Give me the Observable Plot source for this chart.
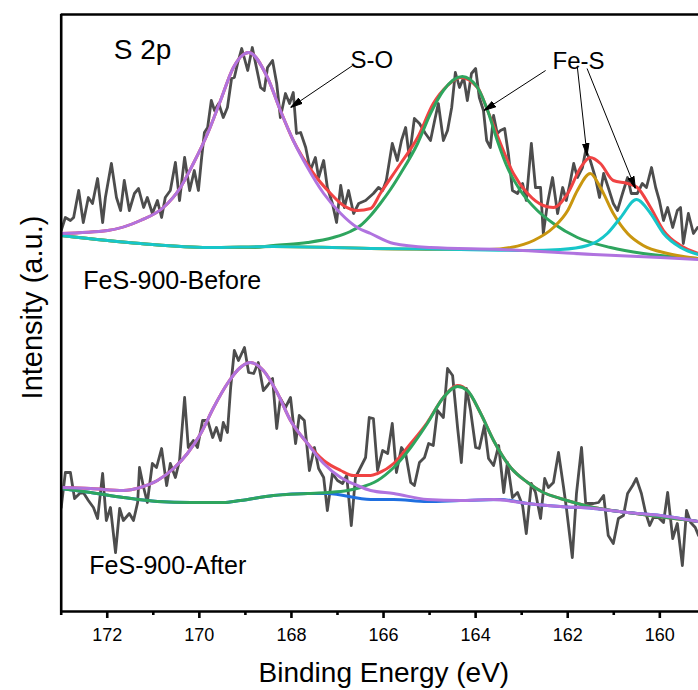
<!DOCTYPE html>
<html>
<head>
<meta charset="utf-8">
<script src="https://cdn.jsdelivr.net/npm/d3@7"></script>
<script src="https://cdn.jsdelivr.net/npm/@observablehq/plot@0.6"></script>
<style>
  html, body { margin: 0; padding: 0; background: white; }
  #chart svg { display: block; }
</style>
</head>
<body>
<div id="chart"></div>
<script>
// ---- Data (binding energy eV, intensity a.u.) ----
const beforeRaw = [[173.00,381],[172.91,394],[172.80,391],[172.73,394],[172.62,421],[172.52,389],[172.41,414],[172.32,408],[172.21,433],[172.10,389],[172.04,414],[171.91,448],[171.80,414],[171.71,401],[171.63,431],[171.52,401],[171.41,418],[171.32,423],[171.21,404],[171.13,414],[171.02,398],[170.91,411],[170.82,394],[170.74,414],[170.63,421],[170.52,449],[170.43,411],[170.32,454],[170.21,421],[170.11,441],[170.02,421],[169.95,454],[169.89,479],[169.82,484],[169.74,511],[169.67,501],[169.58,508],[169.48,494],[169.39,504],[169.30,533],[169.24,534],[169.17,548],[169.08,563],[169.02,553],[168.95,541],[168.85,564],[168.76,544],[168.67,524],[168.59,521],[168.52,544],[168.41,551],[168.32,528],[168.24,494],[168.13,518],[168.04,508],[167.96,519],[167.89,478],[167.80,479],[167.69,464],[167.59,441],[167.48,454],[167.41,434],[167.30,451],[167.22,424],[167.11,408],[167.02,389],[166.93,426],[166.85,404],[166.76,421],[166.65,398],[166.54,408],[166.39,411],[166.22,418],[166.11,424],[166.02,421],[165.94,431],[165.81,468],[165.70,451],[165.61,471],[165.52,484],[165.44,454],[165.33,493],[165.22,488],[165.09,478],[164.98,471],[164.89,491],[164.81,508],[164.70,471],[164.61,481],[164.52,504],[164.44,539],[164.35,524],[164.26,534],[164.18,511],[164.09,538],[164.00,543],[163.92,514],[163.83,501],[163.76,471],[163.68,464],[163.61,496],[163.53,478],[163.46,481],[163.37,483],[163.29,458],[163.20,421],[163.09,418],[162.98,428],[162.90,411],[162.79,468],[162.70,424],[162.59,424],[162.53,378],[162.44,408],[162.33,434],[162.22,398],[162.11,424],[162.03,411],[161.94,431],[161.87,448],[161.79,434],[161.68,444],[161.61,461],[161.51,451],[161.40,434],[161.31,414],[161.22,438],[161.12,424],[161.01,408],[160.92,401],[160.81,418],[160.70,434],[160.62,418],[160.49,418],[160.38,428],[160.29,424],[160.18,444],[160.09,424],[160.01,411],[159.92,391],[159.83,404],[159.72,384],[159.62,401],[159.55,404],[159.49,368],[159.38,398],[159.27,378],[159.18,384]];

const beforeBackground = [[173.00,376],[171.28,368],[169.82,364],[168.39,365],[166.28,363],[164.33,362],[162.87,361],[161.44,358],[159.99,354],[159.16,353]];
const beforeSO = [[173.00,378],[171.99,381],[171.28,391],[170.78,404],[170.41,424],[170.13,448],[169.82,478],[169.54,511],[169.26,544],[168.93,559],[168.52,534],[168.24,501],[167.96,471],[167.65,444],[167.30,418],[166.93,398],[166.57,384],[166.28,378],[165.78,368],[164.98,364],[163.46,362],[161.44,357],[159.99,354],[159.16,352]];
const beforeFeS1 = [[173.00,376],[171.28,368],[169.82,364],[168.80,364],[168.39,366],[167.65,369],[167.09,374],[166.72,380],[166.50,386],[166.28,396],[166.07,408],[165.85,422],[165.63,438],[165.26,468],[164.98,498],[164.70,521],[164.29,535],[163.96,524],[163.74,501],[163.53,471],[163.31,444],[163.03,421],[162.66,401],[162.31,388],[161.79,374],[161.07,364],[160.36,358],[159.16,353]];
const beforeFeS2 = [[173.00,376],[171.28,368],[169.82,364],[168.39,365],[166.28,363],[164.33,362],[163.70,362],[163.24,364],[162.74,371],[162.31,384],[162.00,401],[161.79,421],[161.51,438],[161.29,424],[161.01,398],[160.70,378],[160.36,366],[159.83,358],[159.16,353]];
const beforeFeS3 = [[173.00,376],[171.28,368],[169.82,364],[168.39,365],[166.28,363],[164.33,362],[162.87,361],[162.16,362],[161.57,366],[161.14,378],[160.85,394],[160.51,412],[160.20,398],[159.92,378],[159.55,364],[159.16,357]];
const beforeEnvelope = [[173.00,378],[171.99,381],[171.28,391],[170.78,404],[170.41,424],[170.13,448],[169.82,478],[169.54,511],[169.26,544],[168.93,559],[168.52,534],[168.24,501],[167.96,471],[167.52,438],[167.15,418],[166.87,406],[166.57,401],[166.28,403],[166.07,418],[165.63,448],[165.26,474],[164.92,508],[164.61,526],[164.33,534],[163.96,524],[163.74,501],[163.46,468],[163.18,438],[162.87,418],[162.53,406],[162.31,404],[162.00,418],[161.72,444],[161.51,454],[161.29,448],[161.01,431],[160.70,428],[160.49,424],[160.20,404],[159.92,381],[159.55,366],[159.16,358]];

const afterRaw = [[173.00,104],[172.91,139],[172.80,139],[172.71,113],[172.60,118],[172.52,119],[172.41,111],[172.30,104],[172.21,93],[172.10,138],[172.02,91],[171.93,104],[171.82,59],[171.73,103],[171.65,91],[171.52,98],[171.43,91],[171.34,109],[171.30,144],[171.21,124],[171.13,109],[171.02,148],[170.93,144],[170.82,163],[170.71,126],[170.63,148],[170.52,134],[170.43,151],[170.32,214],[170.24,164],[170.13,171],[170.04,164],[169.93,191],[169.82,191],[169.71,174],[169.63,184],[169.54,171],[169.48,189],[169.39,179],[169.32,224],[169.24,261],[169.15,251],[169.02,264],[168.93,239],[168.82,238],[168.72,249],[168.61,221],[168.52,226],[168.41,233],[168.32,183],[168.24,213],[168.13,204],[168.02,214],[167.91,168],[167.83,196],[167.72,191],[167.61,141],[167.50,164],[167.41,143],[167.30,134],[167.22,101],[167.11,138],[167.00,131],[166.89,128],[166.80,136],[166.70,86],[166.61,134],[166.50,144],[166.39,154],[166.31,194],[166.22,193],[166.13,141],[166.02,161],[165.91,158],[165.81,188],[165.72,139],[165.61,164],[165.52,158],[165.41,129],[165.33,126],[165.22,149],[165.11,154],[165.02,168],[164.92,166],[164.83,201],[164.70,194],[164.61,243],[164.50,236],[164.39,183],[164.31,149],[164.20,223],[164.11,201],[164.00,164],[163.92,163],[163.81,186],[163.72,153],[163.61,146],[163.50,166],[163.39,119],[163.31,149],[163.20,114],[163.09,119],[162.98,106],[162.90,78],[162.79,128],[162.70,119],[162.59,93],[162.50,133],[162.42,124],[162.31,129],[162.20,159],[162.09,124],[162.03,104],[161.90,54],[161.81,118],[161.70,164],[161.61,108],[161.53,108],[161.44,108],[161.33,109],[161.22,116],[161.12,76],[161.01,68],[160.90,93],[160.79,96],[160.70,118],[160.59,126],[160.51,133],[160.40,118],[160.31,99],[160.22,86],[160.14,94],[160.03,94],[159.92,89],[159.83,119],[159.72,73],[159.62,88],[159.51,46],[159.42,101],[159.33,89],[159.23,84],[159.16,76]];

const afterBackground = [[173.00,123],[172.36,119],[171.65,114],[170.91,110],[170.19,109],[169.48,109],[169.11,111],[168.39,116],[167.65,118],[167.22,118],[166.28,112],[165.78,112],[165.05,110],[164.33,111],[163.46,112],[162.87,108],[162.16,105],[161.44,103],[160.70,99],[159.99,96],[159.16,90]];
const afterSO = [[173.00,124],[172.36,123],[171.65,121],[171.28,124],[170.91,131],[170.56,143],[170.26,158],[169.97,178],[169.69,204],[169.39,228],[169.11,244],[168.89,249],[168.61,241],[168.30,218],[168.02,191],[167.65,168],[167.30,148],[166.93,134],[166.57,126],[166.28,121],[165.78,118],[165.05,112],[164.33,111],[163.61,112],[162.87,108],[162.16,105],[161.44,103],[160.70,99],[159.99,96],[159.16,90]];
const afterFeS = [[173.00,123],[172.36,119],[171.65,114],[170.91,110],[170.19,109],[169.48,109],[169.11,111],[168.39,116],[167.65,118],[167.22,119],[166.78,121],[166.50,124],[166.13,131],[165.78,144],[165.41,164],[165.05,188],[164.70,214],[164.39,225],[164.18,221],[163.89,198],[163.61,171],[163.24,144],[162.87,129],[162.53,119],[162.16,113],[161.79,108],[161.44,104],[160.70,99],[159.16,90]];
const afterEnvelope = [[173.00,124],[172.36,123],[171.65,121],[171.28,124],[170.91,131],[170.56,143],[170.26,158],[169.97,178],[169.69,204],[169.39,228],[169.11,244],[168.89,249],[168.61,241],[168.30,218],[168.02,191],[167.65,168],[167.30,151],[166.93,141],[166.65,136],[166.28,136],[166.13,138],[165.78,148],[165.41,168],[165.05,189],[164.70,214],[164.39,226],[164.18,221],[163.89,198],[163.61,171],[163.24,144],[162.87,129],[162.53,119],[162.16,113],[161.79,108],[161.44,104],[160.70,99],[159.16,90]];

const majorTicks = [172, 170, 168, 166, 164, 162, 160];
const minorTicks = [173, 171, 169, 167, 165, 163, 161, 159];

const labels = [
  {text: "S 2p", e: 171.86, i: 553, size: 28},
  {text: "S-O", e: 166.72, i: 544, size: 24},
  {text: "Fe-S", e: 162.33, i: 543, size: 24},
  {text: "FeS-900-Before", e: 172.52, i: 323, size: 25},
  {text: "FeS-900-After", e: 172.39, i: 38, size: 25}
];
// annotation arrows: [fromE, fromI, toE, toI]
const arrows = [
  [166.67, 546, 168.02, 504],
  [162.48, 541, 163.82, 501],
  [161.79, 544, 161.58, 456],
  [161.58, 543, 160.53, 423]
];

// ---- Styling ----
const C = {
  raw: "#4d4d4d", red: "#f04343", green: "#2ea55e", gold: "#c9960f",
  cyan: "#17c6c9", blue: "#1f6fe0", purple: "#b073df"
};
const font = "'Liberation Sans', Arial, Helvetica, sans-serif";

const arrowHead = (color, context) => {
  const doc = (context && context.document) || document;
  const ns = "http://www.w3.org/2000/svg";
  const m = doc.createElementNS(ns, "marker");
  m.setAttribute("viewBox", "-12 -4 12 8");
  m.setAttribute("markerWidth", "12");
  m.setAttribute("markerHeight", "8");
  m.setAttribute("markerUnits", "userSpaceOnUse");
  m.setAttribute("orient", "auto");
  m.setAttribute("refX", "0");
  m.setAttribute("refY", "0");
  const p = doc.createElementNS(ns, "path");
  p.setAttribute("d", "M-12,-3.2L0,0L-12,3.2Z");
  p.setAttribute("fill", "black");
  m.appendChild(p);
  return m;
};

const fit = (data, stroke) => Plot.line(data, {
  x: d => d[0], y: d => d[1], stroke, strokeWidth: 3, curve: "monotone-x", clip: true
});
const raw = (data) => Plot.line(data, {
  x: d => d[0], y: d => d[1], stroke: C.raw, strokeWidth: 2.8, strokeLinejoin: "round", clip: true
});

const chart = Plot.plot({
  width: 698,
  height: 690,
  marginLeft: 60.7,
  marginRight: 0,
  marginTop: 14,
  marginBottom: 79,
  style: {fontFamily: font, background: "white", color: "black"},
  x: {domain: [173, 159.16]},
  y: {domain: [0, 597], axis: null},
  marks: [
    raw(beforeRaw),
    raw(afterRaw),
    fit(beforeEnvelope, C.red),
    fit(beforeFeS1, C.green),
    fit(beforeFeS2, C.gold),
    fit(beforeFeS3, C.cyan),
    fit(beforeSO, C.purple),
    fit(afterEnvelope, C.red),
    fit(afterBackground, C.blue),
    fit(afterFeS, C.green),
    fit(afterSO, C.purple),
    Plot.link(arrows, {
      x1: d => d[0], y1: d => d[1], x2: d => d[2], y2: d => d[3],
      stroke: "black", strokeWidth: 1, markerEnd: arrowHead
    }),
    Plot.text(labels, {
      x: d => d.e, y: d => d.i, text: d => d.text, fontSize: d => d.size,
      textAnchor: "start", lineAnchor: "bottom", fill: "black"
    }),
    Plot.ruleY([0], {stroke: "black", strokeWidth: 2.6}),
    Plot.ruleY([597], {stroke: "black", strokeWidth: 2.6}),
    Plot.ruleX([173], {stroke: "black", strokeWidth: 2.6}),
    Plot.axisX({ticks: minorTicks, tickSize: 4, tickFormat: () => "", strokeWidth: 2.6, label: null}),
    Plot.axisX({ticks: majorTicks, tickSize: 7, tickPadding: 10, fontSize: 18, strokeWidth: 2.6,
      tickFormat: d => String(d), label: null}),
    Plot.text(["Binding Energy (eV)"], {frameAnchor: "bottom", dx: 4, dy: 62, fontSize: 28,
      lineAnchor: "middle", textAnchor: "middle", fill: "black"}),
    Plot.text(["Intensity (a.u.)"], {frameAnchor: "left", dx: -19, dy: -5.5, rotate: -90,
      fontSize: 29, lineAnchor: "bottom", textAnchor: "middle", fill: "black"})
  ]
});
document.getElementById("chart").appendChild(chart);
</script>
</body>
</html>
